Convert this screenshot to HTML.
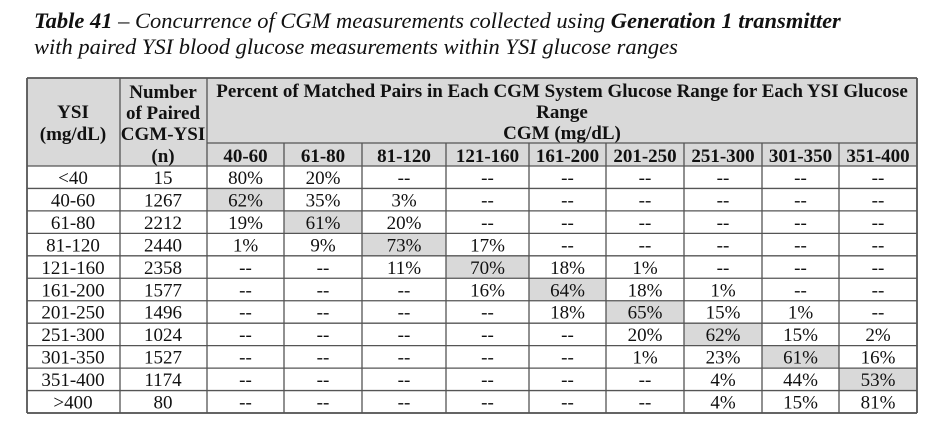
<!DOCTYPE html>
<html><head><meta charset="utf-8"><style>
html,body{margin:0;padding:0;background:#fff;width:940px;height:429px;overflow:hidden}
svg{display:block}
text{font-family:"Liberation Serif",serif;fill:#111}
</style></head><body>
<svg id="t" width="940" height="429" xmlns="http://www.w3.org/2000/svg">
<text x="34" y="28" font-size="22.5" font-style="italic"><tspan font-weight="bold">Table 41</tspan> – Concurrence of CGM measurements collected using <tspan font-weight="bold">Generation 1 transmitter</tspan></text>
<text x="34" y="54" font-size="22.5" font-style="italic">with paired YSI blood glucose measurements within YSI glucose ranges</text>
</svg>
<script>
const cgmRanges=["40-60","61-80","81-120","121-160","161-200","201-250","251-300","301-350","351-400"];
const ysiRanges=["<40","40-60","61-80","81-120","121-160","161-200","201-250","251-300","301-350","351-400",">400"];
const pairedCounts=[15,1267,2212,2440,2358,1577,1496,1024,1527,1174,80];
const percents=[
[80,20,null,null,null,null,null,null,null],
[62,35,3,null,null,null,null,null,null],
[19,61,20,null,null,null,null,null,null],
[1,9,73,17,null,null,null,null,null],
[null,null,11,70,18,1,null,null,null],
[null,null,null,16,64,18,1,null,null],
[null,null,null,null,18,65,15,1,null],
[null,null,null,null,null,20,62,15,2],
[null,null,null,null,null,1,23,61,16],
[null,null,null,null,null,null,4,44,53],
[null,null,null,null,null,null,4,15,81]];
const highlighted=[null,0,1,2,3,4,5,6,7,8,null];
const svg=document.getElementById('t');const NS="http://www.w3.org/2000/svg";
const colX=[27,120,207,284,362,446,529,606,684,762,839,917];
const top0=78,subTop=143,bodyTop=166,rowH=(413-166)/11;
function el(tag,attrs,txt){const e=document.createElementNS(NS,tag);for(const k in attrs)e.setAttribute(k,attrs[k]);if(txt!=null)e.textContent=txt;svg.appendChild(e);return e;}
const hb=el('rect',{x:27,y:top0,width:890,height:bodyTop-top0,fill:'#d9d9d9'});


for(let r=0;r<ysiRanges.length;r++){const c=highlighted[r];if(c==null)continue;
const h=el('rect',{x:colX[c+2],y:bodyTop+r*rowH,width:colX[c+3]-colX[c+2],height:rowH,fill:'#d9d9d9'});

}
function T(x,y,s,b,name){const t=el('text',{x:x,y:y,'font-size':19,'text-anchor':'middle','font-weight':b?'bold':'normal'},s);return t;}
T(73,118,"YSI",1,'ysi-header');T(73,140,"(mg/dL)",1,'ysi-unit-header');
T(163,98,"Number",1,'count-header');T(163,119,"of Paired",1,'count-header');T(163,140,"CGM-YSI",1,'count-header');T(163,162,"(n)",1,'count-header');
T(562,97,"Percent of Matched Pairs in Each CGM System Glucose Range for Each YSI Glucose",1,'percent-header');
T(562,118,"Range",1,'percent-header');T(562,139,"CGM (mg/dL)",1,'cgm-unit-header');
cgmRanges.forEach((s,i)=>T((colX[i+2]+colX[i+3])/2,162,s,1,'cgm-range-header'));
for(let r=0;r<ysiRanges.length;r++){const y=bodyTop+r*rowH+18;
T(73,y,ysiRanges[r],0,'ysi-range-label');T(163,y,String(pairedCounts[r]),0,'paired-count');
percents[r].forEach((v,i)=>T((colX[i+2]+colX[i+3])/2,y,v==null?"--":v+"%",0,'percent-cell'));}
function L(x1,y1,x2,y2,w){const l=el('line',{x1:x1,y1:y1,x2:x2,y2:y2,stroke:'#555','stroke-width':w||1.3});}
L(27,top0,917,top0,1.8);L(27,413,917,413,1.8);L(27,top0,27,413,1.8);L(917,top0,917,413,1.8);
L(207,subTop,917,subTop);
for(let r=0;r<=ysiRanges.length;r++)L(27,bodyTop+r*rowH,917,bodyTop+r*rowH);
L(120,top0,120,413);L(207,top0,207,413);
for(let i=3;i<colX.length-1;i++)L(colX[i],subTop,colX[i],413);
</script>
</body></html>
